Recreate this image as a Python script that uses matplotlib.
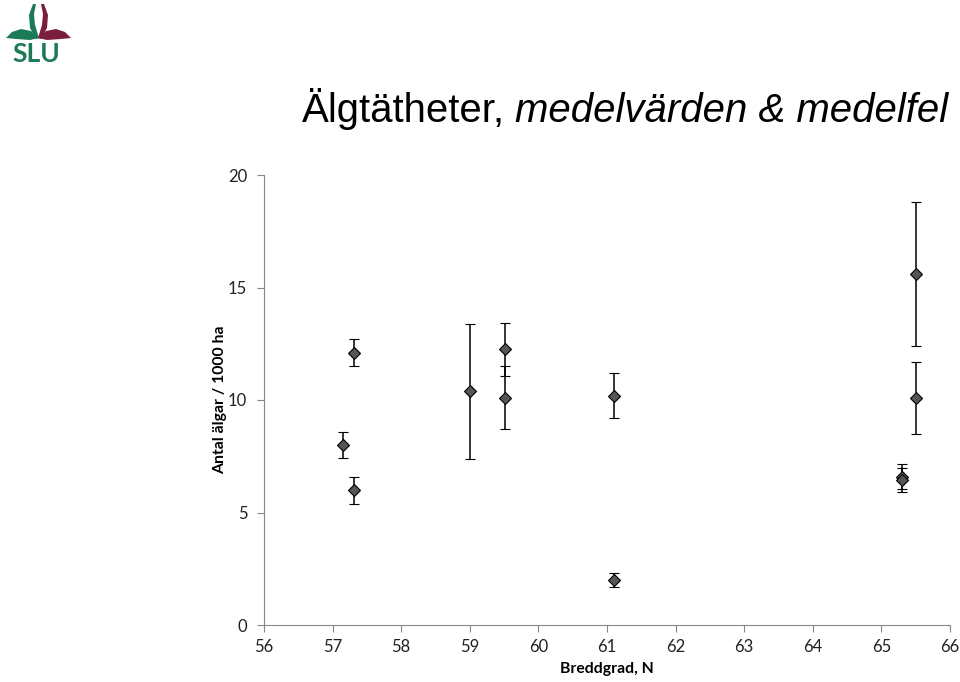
import matplotlib
matplotlib.use("Agg")
import matplotlib.pyplot as plt
from matplotlib.patches import Polygon

# breddgrad, medelvarde, medelfel
lat = [57.15, 57.31, 57.31, 59.0, 59.51, 59.51, 61.1, 61.1, 65.3, 65.3, 65.5, 65.5]
density = [8.0, 12.1, 6.0, 10.4, 12.25, 10.1, 10.2, 2.0, 6.6, 6.45, 15.6, 10.1]
stderr = [0.58, 0.6, 0.6, 3.0, 1.17, 1.4, 1.0, 0.3, 0.55, 0.55, 3.2, 1.6]
xticks = list(range(56, 67))
yticks = [0, 5, 10, 15, 20]

plt.rcParams['font.family'] = ['Liberation Sans', 'DejaVu Sans']

W, H = 960, 682
fig = plt.figure(figsize=(9.6, 6.82), dpi=100)
ax = fig.add_axes([264 / W, 57 / H, 686 / W, 450 / H])

ax.errorbar(lat, density, yerr=stderr, fmt='D', color='black', ecolor='black',
            elinewidth=1.1, capsize=3.8, capthick=1.1, markersize=6.5,
            markerfacecolor='#555555', markeredgecolor='black', markeredgewidth=0.8)

ax.set_xlim(56, 66)
ax.set_ylim(0, 20)
ax.set_xticks(xticks)
ax.set_yticks(yticks)
for s in ['top', 'right']:
    ax.spines[s].set_visible(False)
for s in ['left', 'bottom']:
    ax.spines[s].set_color('#888888')
    ax.spines[s].set_linewidth(0.8)
ax.tick_params(colors='#888888', length=5, width=0.8, labelcolor='#222222', labelsize=12)
ax.tick_params(axis='x', pad=5)
ax.tick_params(axis='y', pad=7)
for lbl in ax.get_xticklabels() + ax.get_yticklabels():
    lbl.set_family(['Lato', 'DejaVu Sans'])

ax.set_xlabel('Breddgrad, N', fontsize=11.3, fontweight='bold', labelpad=5,
              family=['Lato', 'DejaVu Sans'])
ax.set_ylabel('Antal älgar / 1000 ha', fontsize=11.3, fontweight='bold', labelpad=1,
              family=['Lato', 'DejaVu Sans'])

# titel, kursiv del direkt efter den raka
fig.canvas.draw()
r = fig.canvas.get_renderer()
t1 = fig.text(302 / W, 1 - 122 / H, 'Älgtätheter,', fontsize=28.9, ha='left', va='baseline')
bb = t1.get_window_extent(renderer=r)
fig.text((bb.x1 + 10) / W, 1 - 122 / H, 'medelvärden & medelfel', fontsize=28.9,
         style='italic', ha='left', va='baseline')

# SLU-logga (pixelkoordinater, y nedat)
green = '#1d7a57'
red = '#7b1e3e'


def px(pts):
    return [[x / W, 1 - y / H] for x, y in pts]


stem = [(33, 4), (36, 4), (34, 14), (35, 25), (39, 38), (36, 39), (30, 28), (29, 15)]
leaf = [(39, 38), (31, 31), (21, 29), (12, 32), (6, 38), (16, 39), (30, 40)]
for shape in [stem, leaf]:
    fig.patches.append(Polygon(px(shape), closed=True, transform=fig.transFigure,
                               color=green, lw=0))
    mirrored = [(77 - x, y) for x, y in shape]
    fig.patches.append(Polygon(px(mirrored), closed=True, transform=fig.transFigure,
                               color=red, lw=0))
fig.text(36 / W, 1 - 62 / H, 'SLU', fontsize=19, color=green, fontweight='bold',
         family=['Lato', 'DejaVu Sans'], ha='center', va='baseline')

fig.savefig('out.png', dpi=100)
